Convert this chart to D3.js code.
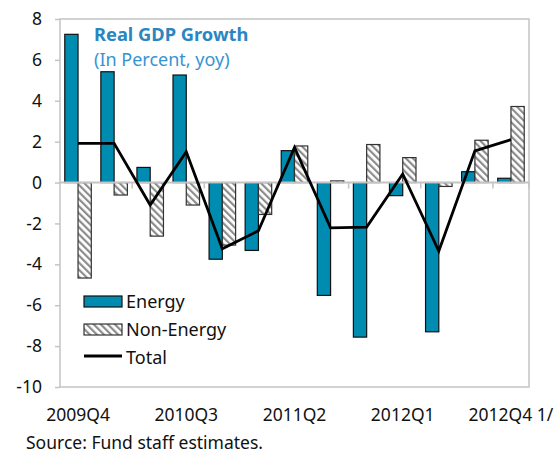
<!DOCTYPE html>
<html>
<head>
<meta charset="utf-8">
<script src="https://cdn.jsdelivr.net/npm/d3@7"></script>
<style>
  body { margin: 0; background: #fff; }
  text { font-family: "Noto Sans", "Open Sans", sans-serif; }
</style>
</head>
<body>
<div id="chart"></div>
<script>
// data
const quarters = ["2009Q4", "2010Q1", "2010Q2", "2010Q3", "2010Q4", "2011Q1", "2011Q2",
  "2011Q3", "2011Q4", "2012Q1", "2012Q2", "2012Q3", "2012Q4"];
const tickLabels = ["2009Q4", "2010Q3", "2011Q2", "2012Q1", "2012Q4 1/"];
const energy = [7.25, 5.42, 0.74, 5.26, -3.75, -3.32, 1.56, -5.52, -7.56, -0.64, -7.3, 0.53, 0.21];
const nonEnergy = [-4.67, -0.61, -2.62, -1.1, -3.06, -1.56, 1.79, 0.08, 1.86, 1.22, -0.19, 2.07, 3.72];
const total = [1.92, 1.92, -1.1, 1.51, -3.24, -2.36, 1.72, -2.22, -2.18, 0.42, -3.35, 1.55, 2.1];
const yTicks = [8, 6, 4, 2, 0, -2, -4, -6, -8, -10];

const W = 558, H = 453;
const margin = {top: 19, right: 29, bottom: 66, left: 60};
const width = W - margin.left - margin.right;
const height = H - margin.top - margin.bottom;

const svg = d3.select("#chart").append("svg")
  .attr("width", W)
  .attr("height", H);

// hatch pattern for non-energy
const defs = svg.append("defs");
const pat = defs.append("pattern")
  .attr("id", "hatch")
  .attr("patternUnits", "userSpaceOnUse")
  .attr("width", 5)
  .attr("height", 5)
  .attr("patternTransform", "rotate(-45)");
pat.append("rect").attr("width", 5).attr("height", 5).attr("fill", "#fff");
pat.append("rect").attr("width", 2.2).attr("height", 5).attr("fill", "#8c8c8c");

const g = svg.append("g")
  .attr("transform", "translate(" + margin.left + "," + margin.top + ")");

const x = d3.scaleBand()
  .domain(quarters)
  .range([0, width]);

const x1 = d3.scaleBand()
  .domain(["energy", "nonEnergy"])
  .range([0, x.bandwidth()])
  .paddingOuter(0.36);

const y = d3.scaleLinear()
  .domain([-10, 8])
  .range([height, 0]);

// frame
g.append("rect")
  .attr("width", width)
  .attr("height", height)
  .attr("fill", "none")
  .attr("stroke", "#c4c4c4")
  .attr("stroke-width", 1.5);

// y axis
const yAxis = g.append("g")
  .call(d3.axisLeft(y).tickValues(yTicks).tickSize(5).tickPadding(13).tickFormat(d3.format("d")));
yAxis.select(".domain").remove();
yAxis.selectAll("line").attr("stroke", "#c4c4c4").attr("stroke-width", 1.5);
yAxis.selectAll("text")
  .attr("font-size", 17.5)
  .attr("fill", "#111")
  .text(d => d < 0 ? "-" + Math.abs(d) : d);

// bars
const rows = quarters.map((q, i) => ({q: q, energy: energy[i], nonEnergy: nonEnergy[i]}));

g.selectAll(".bar-e")
  .data(rows)
  .enter()
  .append("rect")
  .attr("x", d => x(d.q) + x1("energy"))
  .attr("y", d => y(Math.max(0, d.energy)))
  .attr("width", x1.bandwidth())
  .attr("height", d => Math.abs(y(d.energy) - y(0)))
  .attr("fill", "#008bb0")
  .attr("stroke", "#111")
  .attr("stroke-width", 1.2);

g.selectAll(".bar-n")
  .data(rows)
  .enter()
  .append("rect")
  .attr("x", d => x(d.q) + x1("nonEnergy"))
  .attr("y", d => y(Math.max(0, d.nonEnergy)))
  .attr("width", x1.bandwidth())
  .attr("height", d => Math.abs(y(d.nonEnergy) - y(0)))
  .attr("fill", "url(#hatch)")
  .attr("stroke", "#333")
  .attr("stroke-width", 1.2);

// zero line with ticks every two quarters
g.append("line")
  .attr("x1", 0).attr("x2", width)
  .attr("y1", y(0)).attr("y2", y(0))
  .attr("stroke", "#c4c4c4")
  .attr("stroke-width", 2);

g.selectAll(".zt")
  .data(quarters.filter((q, i) => i > 0 && i % 2 === 0).concat(["end"]))
  .enter()
  .append("line")
  .attr("x1", d => d === "end" ? width : x(d))
  .attr("x2", d => d === "end" ? width : x(d))
  .attr("y1", y(0))
  .attr("y2", y(0) + 6)
  .attr("stroke", "#c4c4c4")
  .attr("stroke-width", 1.5);

// total line
g.append("path")
  .datum(total)
  .attr("fill", "none")
  .attr("stroke", "#000")
  .attr("stroke-width", 2.8)
  .attr("stroke-linejoin", "miter")
  .attr("d", d3.line()
    .x((d, i) => x(quarters[i]) + x.bandwidth() / 2)
    .y(d => y(d)));

// x tick labels, every third quarter
g.selectAll(".xl")
  .data(tickLabels)
  .enter()
  .append("text")
  .attr("x", (d, i) => x(quarters[i * 3]) + x.bandwidth() / 2)
  .attr("y", height + 34)
  .attr("text-anchor", "middle")
  .attr("font-size", 17.5)
  .attr("fill", "#111")
  .text(d => d);

// title
g.append("text")
  .attr("x", 34).attr("y", 22)
  .attr("font-size", 18.3)
  .attr("font-weight", "bold")
  .attr("fill", "#2a86c2")
  .text("Real GDP Growth");
g.append("text")
  .attr("x", 34).attr("y", 47)
  .attr("font-size", 18)
  .attr("fill", "#3793cf")
  .text("(In Percent, yoy)");

// legend
const legend = g.append("g").attr("transform", "translate(24,276)");
legend.append("rect")
  .attr("x", 0).attr("y", 1).attr("width", 38).attr("height", 11)
  .attr("fill", "#008bb0").attr("stroke", "#111").attr("stroke-width", 1.2);
legend.append("rect")
  .attr("x", 0).attr("y", 29).attr("width", 38).attr("height", 11)
  .attr("fill", "url(#hatch)").attr("stroke", "#333").attr("stroke-width", 1.2);
legend.append("line")
  .attr("x1", 0).attr("x2", 38).attr("y1", 61).attr("y2", 61)
  .attr("stroke", "#000").attr("stroke-width", 2.8);
const legendLabels = ["Energy", "Non-Energy", "Total"];
legend.selectAll(".lt")
  .data(legendLabels)
  .enter()
  .append("text")
  .attr("x", 42)
  .attr("y", (d, i) => 13 + i * 28)
  .attr("font-size", 18)
  .attr("fill", "#111")
  .text(d => d);

// source note
svg.append("text")
  .attr("x", 26).attr("y", 449)
  .attr("font-size", 17.5)
  .attr("fill", "#111")
  .text("Source: Fund staff estimates.");
</script>
</body>
</html>
